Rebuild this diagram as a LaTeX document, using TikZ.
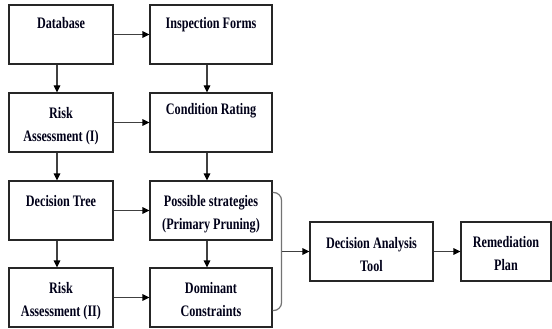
\documentclass[tikz,border=0pt]{standalone}
\usepackage{fontspec}
\setmainfont{Liberation Serif}[FakeStretch=0.76]
\usetikzlibrary{arrows.meta,calc}
\tikzset{
  box/.style={draw=black!85, line width=1.1pt, inner sep=0pt, fill=white},
  lbl/.style={anchor=north, inner sep=0pt, align=center,
    font=\fontsize{16}{23}\selectfont\bfseries, text=black!90!blue},
  arr/.style={draw=black!75, line width=1.1pt, -{Triangle[length=7pt,width=6.5pt,color=black]}},
  brk/.style={draw=black!55, line width=1.2pt, rounded corners=8pt},
}
\newcommand{\mybox}[8]{% name, cx, cy, w, h, text, off
  \node[box, minimum width=#4pt, minimum height=#5pt] (#1) at (#2pt,-#3pt) {};
  \node[lbl] (#1t) at ([yshift=-#7pt]#1.north) {#6};
}
\begin{document}
\begin{tikzpicture}[x=1pt,y=1pt]
\useasboundingbox (0,0) rectangle (552,-329);
\mybox{db}{61}{34.5}{104}{59}{Database}{12.5}{}
\mybox{ins}{211}{34.5}{122}{59}{Inspection Forms}{12.5}{}
\mybox{ra}{61}{122.5}{104}{59}{Risk\\Assessment (I)}{14.5}{}
\mybox{cr}{211}{122.5}{122}{59}{Condition Rating}{10.5}{}
\mybox{dt}{61}{210.5}{104}{59}{Decision Tree}{14.5}{}
\mybox{ps}{211}{210.5}{122}{59}{Possible strategies\\(Primary Pruning)}{14.5}{}
\mybox{rb}{61}{297.5}{104}{59}{Risk\\Assessment (II)}{14.5}{}
\mybox{dc}{211}{297.5}{122}{59}{Dominant\\Constraints}{14.5}{}
\mybox{dat}{371.5}{251.5}{123}{59}{Decision Analysis\\Tool}{15.5}{}
\mybox{rp}{506}{251.5}{90}{59}{Remediation\\Plan}{15}{}
% horizontal arrows
\draw[arr] (db.east) -- (ins.west);
\draw[arr] (ra.east) -- (cr.west);
\draw[arr] (dt.east) -- (ps.west);
\draw[arr] (rb.east) -- (dc.west);
\draw[arr] (dat.east) -- (rp.west);
% vertical arrows
\draw[arr] ([xshift=-4pt]db.south) -- ([xshift=-4pt]ra.north);
\draw[arr] ([xshift=-4pt]ra.south) -- ([xshift=-4pt]dt.north);
\draw[arr] ([xshift=-4pt]dt.south) -- ([xshift=-4pt]rb.north);
\draw[arr] ([xshift=-4pt]ins.south) -- ([xshift=-4pt]cr.north);
\draw[arr] ([xshift=-4pt]cr.south) -- ([xshift=-4pt]ps.north);
\draw[arr] ([xshift=-4pt]ps.south) -- ([xshift=-4pt]dc.north);
% bracket
\coordinate (bt) at ([yshift=-12pt]ps.north east);
\coordinate (bb) at ([yshift=17pt]dc.south east);
\coordinate (bm) at (282,-251.5);
\draw[brk] (bt) -- ++(9,0) -- ($(bb)+(9,0)$) -- (bb);
\draw[arr] (bm) -- (dat.west);
\end{tikzpicture}
\end{document}
